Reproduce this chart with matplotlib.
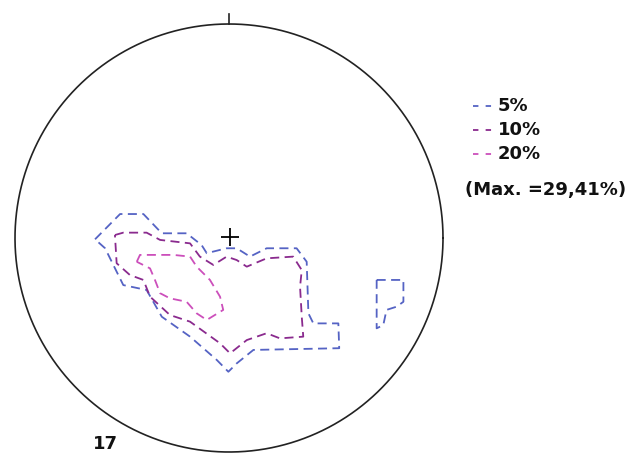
import numpy as np
import matplotlib
matplotlib.use("Agg")
import matplotlib.pyplot as plt
from matplotlib.lines import Line2D

# density contours on the net (unit circle coordinates)
c5_x = [-0.626, -0.509, -0.400, -0.314, -0.198, -0.128, -0.104, -0.011, 0.036, 0.098,
        0.176, 0.316, 0.363, 0.371, 0.394, 0.511, 0.515, 0.114, 0.036, -0.003,
        -0.057, -0.182, -0.314, -0.385, -0.494, -0.579]
c5_y = [-0.006, 0.112, 0.112, 0.022, 0.022, -0.033, -0.071, -0.048, -0.048, -0.087,
        -0.048, -0.048, -0.111, -0.352, -0.399, -0.399, -0.515, -0.523, -0.586, -0.625,
        -0.570, -0.461, -0.368, -0.243, -0.220, -0.048]

c5b_x = [0.690, 0.815, 0.815, 0.783, 0.736, 0.721, 0.690]
c5b_y = [-0.196, -0.196, -0.298, -0.321, -0.336, -0.407, -0.422]

c10_x = [-0.533, -0.494, -0.385, -0.322, -0.182, -0.136, -0.073, -0.011, 0.036, 0.083,
         0.176, 0.300, 0.340, 0.332, 0.340, 0.347, 0.238, 0.176, 0.083, 0.005,
         -0.042, -0.182, -0.276, -0.369, -0.400, -0.463, -0.525]
c10_y = [0.014, 0.025, 0.025, -0.009, -0.025, -0.087, -0.126, -0.087, -0.103, -0.134,
         -0.095, -0.087, -0.150, -0.228, -0.368, -0.461, -0.469, -0.445, -0.477, -0.539,
         -0.492, -0.391, -0.360, -0.274, -0.196, -0.173, -0.118]

c20_x = [-0.431, -0.416, -0.260, -0.182, -0.151, -0.089, -0.042, -0.027, -0.104, -0.151,
         -0.198, -0.276, -0.322, -0.346, -0.369]
c20_y = [-0.111, -0.079, -0.079, -0.087, -0.134, -0.196, -0.274, -0.336, -0.383, -0.352,
         -0.298, -0.282, -0.258, -0.196, -0.142]

levels = ["5%", "10%", "20%"]
level_colors = ["#5563c4", "#8a2a8e", "#cc4fbb"]
max_label = "(Max. =29,41%)"
plot_no = "17"

W, H = 631, 455
fig = plt.figure(figsize=(W / 100, H / 100), dpi=100)
cx, cy, r = 229, 238, 214
ax = fig.add_axes([(cx - r) / W, (H - cy - r) / H, 2 * r / W, 2 * r / H])
ax.set_xlim(-1, 1)
ax.set_ylim(-1, 1)
ax.set_aspect("equal")
ax.axis("off")

# primitive circle, north tick, centre cross
t = np.linspace(0, 2 * np.pi, 400)
ax.plot(np.cos(t), np.sin(t), color="#222222", lw=1.2, clip_on=False)
ax.plot([0, 0], [1, 1.045], color="#222222", lw=1.2, clip_on=False)
ax.plot([0.005], [0.005], marker="+", color="black", ms=13, mew=1.3)

def closed(xs, ys):
    return list(xs) + [xs[0]], list(ys) + [ys[0]]

dash = (0, (5, 3))
for xs, ys, col in [(c5_x, c5_y, level_colors[0]), (c5b_x, c5b_y, level_colors[0]),
                    (c10_x, c10_y, level_colors[1]), (c20_x, c20_y, level_colors[2])]:
    px, py = closed(xs, ys)
    ax.plot(px, py, color=col, lw=1.3, linestyle=dash)

# legend
fs = 13
leg_y = [106, 130, 154]
for lab, col, y in zip(levels, level_colors, leg_y):
    fig.add_artist(Line2D([473 / W, 493 / W], [1 - y / H, 1 - y / H], color=col,
                          lw=1.3, linestyle=(0, (3, 4))))
    fig.text(498 / W, 1 - y / H, lab, fontsize=fs, fontweight="bold",
             va="center", ha="left", color="#111111")
fig.text(465 / W, 1 - 190 / H, max_label, fontsize=fs, fontweight="bold",
         va="center", ha="left", color="#111111")
fig.text(93 / W, 1 - 444 / H, plot_no, fontsize=fs, fontweight="bold",
         va="center", ha="left", color="#111111")

fig.savefig("out.png", dpi=100)
